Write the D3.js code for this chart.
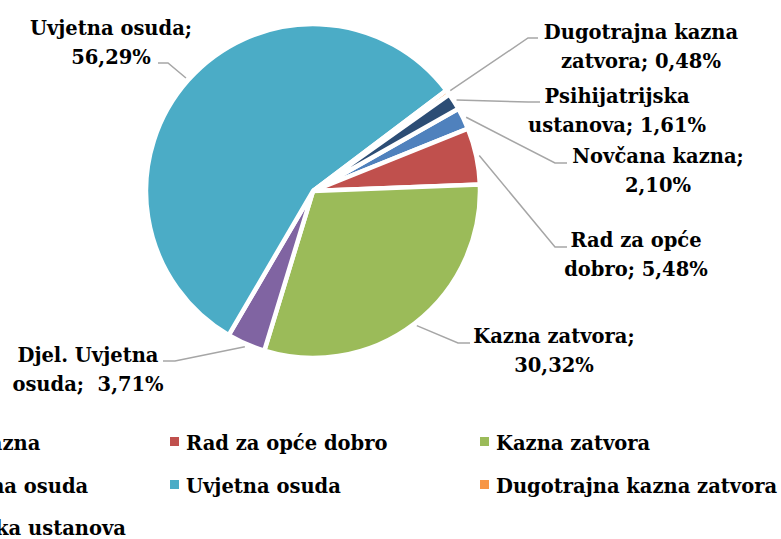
<!DOCTYPE html>
<html>
<head>
<meta charset="utf-8">
<script src="https://cdn.jsdelivr.net/npm/d3@7"></script>
<style>
  body { margin: 0; background: #fff; }
  svg { display: block; }
  text { font-family: "DejaVu Serif", serif; font-weight: bold; fill: #000; }
</style>
</head>
<body>
<div id="main"></div>
<script>
(function(){

  const categories = ["Novčana kazna", "Rad za opće dobro", "Kazna zatvora", "Djel. Uvjetna osuda", "Uvjetna osuda", "Dugotrajna kazna zatvora", "Psihijatrijska ustanova"]
  const values = [2.10, 5.48, 30.32, 3.71, 56.29, 0.48, 1.61]
  const labelLines = [
    ["Novčana kazna;", "2,10%"],
    ["Rad za opće", "dobro; 5,48%"],
    ["Kazna zatvora;", "30,32%"],
    ["Djel. Uvjetna", "osuda;  3,71%"],
    ["Uvjetna osuda;", "56,29%"],
    ["Dugotrajna kazna", "zatvora; 0,48%"],
    ["Psihijatrijska", "ustanova; 1,61%"]
  ]
  const colors = ["#4F81BD", "#C0504D", "#9BBB59", "#8064A2", "#4BACC6", "#F79646", "#2C4D75"]

  const width = 781
  const height = 539
  const cx = 313, cy = 191, radius = 167
  const startDeg = 60.5
  const fontSize = 19.5
  const lineGap = 28.5

  // label placement: elbow of leader line, end of leader line, label center x, first baseline
  const labelLayout = [
    {elbow: [555, 163], end: [567, 163], x: 658, y: 163},
    {elbow: [555, 247], end: [567, 247], x: 636, y: 247},
    {elbow: [458, 343], end: [470, 343], x: 554, y: 343},
    {elbow: [175, 361], end: [163, 361], x: 88, y: 362},
    {elbow: [168, 63], end: [158, 63], x: 111, y: 35},
    {elbow: [528, 38], end: [538, 38], x: 641, y: 39},
    {elbow: [528, 102], end: [540, 102], x: 617, y: 103}
  ]

  const svg = d3.select("#main").append("svg")
    .attr("width", width)
    .attr("height", height)

  const start = startDeg * Math.PI / 180
  const pie = d3.pie()
    .sort(null)
    .value(d => d)
    .startAngle(start)
    .endAngle(start + 2 * Math.PI)

  const arcs = pie(values)

  const arc = d3.arc()
    .innerRadius(0)
    .outerRadius(radius)

  const g = svg.append("g")
    .attr("transform", `translate(${cx},${cy})`)

  g.selectAll("path.slice")
    .data(arcs)
    .join("path")
    .attr("class", "slice")
    .attr("fill", (d, i) => colors[i])
    .attr("stroke", "#fff")
    .attr("stroke-width", 4.5)
    .attr("stroke-linejoin", "miter")
    .attr("d", arc)

  // leader lines
  const lineGen = d3.line()
  arcs.forEach((d, i) => {
    const mid = (d.startAngle + d.endAngle) / 2
    const r0 = radius + 3
    const p0 = [cx + r0 * Math.sin(mid), cy - r0 * Math.cos(mid)]
    const L = labelLayout[i]
    svg.append("path")
      .attr("d", lineGen([p0, L.elbow, L.end]))
      .attr("fill", "none")
      .attr("stroke", "#A6A6A6")
      .attr("stroke-width", 1.5)
  })

  // data labels
  labelLines.forEach((lines, i) => {
    const L = labelLayout[i]
    const t = svg.append("text")
      .attr("text-anchor", "middle")
      .style("font-size", fontSize + "px")
    lines.forEach((s, j) => {
      t.append("tspan")
        .attr("x", L.x)
        .attr("y", L.y + j * lineGap)
        .attr("xml:space", "preserve")
        .text(s)
    })
  })

  // legend (cut at the left edge, like the source)
  const legendCols = [-140, 170, 480]
  const legendRows = [450, 493, 535]
  categories.forEach((c, i) => {
    const col = i % 3, row = Math.floor(i / 3)
    const x = legendCols[col], y = legendRows[row]
    svg.append("rect")
      .attr("x", x)
      .attr("y", y - 13)
      .attr("width", 9)
      .attr("height", 9)
      .attr("fill", colors[i])
    svg.append("text")
      .attr("x", x + 16)
      .attr("y", y)
      .style("font-size", fontSize + "px")
      .text(c)
  })

}())
</script>
</body>
</html>
